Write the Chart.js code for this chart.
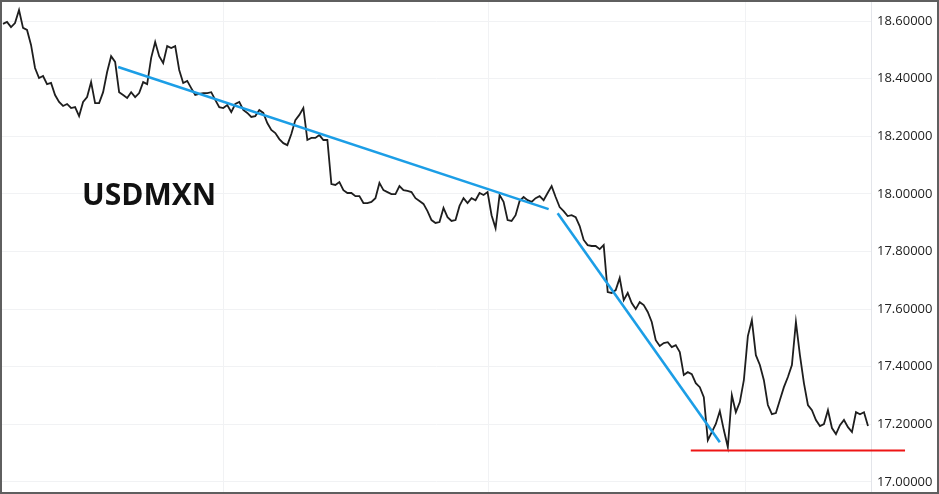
<!DOCTYPE html>
<html>
<head>
<meta charset="utf-8">
<script src="https://cdn.jsdelivr.net/npm/chart.js@4"></script>
<style>
  body { margin: 0; background: #fff; }
  .frame { width: 939px; height: 494px; box-sizing: border-box; border: 2px solid #5f5f5f; }
  .frame canvas { display: block; }
</style>
</head>
<body>
<div class="frame"><canvas id="myChart" width="935" height="490"></canvas></div>
<script>
// USDMXN closes, one value per bar
const closes = [
  18.590, 18.597, 18.579, 18.593, 18.638, 18.576, 18.569, 18.517, 18.437, 18.402,
  18.409, 18.381, 18.385, 18.343, 18.319, 18.305, 18.312, 18.298, 18.301, 18.270,
  18.319, 18.336, 18.388, 18.315, 18.315, 18.353, 18.423, 18.478, 18.458, 18.353,
  18.343, 18.333, 18.353, 18.336, 18.350, 18.388, 18.381, 18.472, 18.527, 18.478,
  18.454, 18.513, 18.506, 18.513, 18.430, 18.385, 18.392, 18.367, 18.343, 18.347,
  18.350, 18.350, 18.353, 18.326, 18.301, 18.298, 18.308, 18.284, 18.312, 18.319,
  18.291, 18.281, 18.267, 18.270, 18.291, 18.281, 18.246, 18.222, 18.211, 18.190,
  18.176, 18.169, 18.208, 18.256, 18.274, 18.298, 18.187, 18.194, 18.194, 18.204,
  18.187, 18.187, 18.034, 18.031, 18.041, 18.013, 18.003, 18.003, 17.992, 17.992,
  17.968, 17.968, 17.972, 17.985, 18.038, 18.013, 18.006, 17.999, 17.999, 18.027,
  18.013, 18.010, 18.006, 17.985, 17.975, 17.965, 17.940, 17.909, 17.899, 17.902,
  17.951, 17.919, 17.906, 17.909, 17.958, 17.985, 17.968, 17.985, 17.978, 18.003,
  17.996, 18.006, 17.926, 17.881, 17.996, 17.972, 17.909, 17.906, 17.926, 17.975,
  17.989, 17.978, 17.972, 17.985, 17.992, 17.978, 18.003, 18.027, 17.989, 17.954,
  17.940, 17.923, 17.926, 17.919, 17.888, 17.840, 17.822, 17.819, 17.819, 17.808,
  17.822, 17.659, 17.656, 17.666, 17.708, 17.631, 17.656, 17.621, 17.600, 17.624,
  17.614, 17.590, 17.555, 17.492, 17.472, 17.482, 17.485, 17.468, 17.475, 17.451,
  17.371, 17.381, 17.374, 17.343, 17.329, 17.294, 17.145, 17.173, 17.201, 17.246,
  17.180, 17.121, 17.301, 17.242, 17.277, 17.353, 17.506, 17.562, 17.440, 17.406,
  17.353, 17.267, 17.235, 17.239, 17.284, 17.329, 17.364, 17.406, 17.555, 17.440,
  17.343, 17.267, 17.249, 17.215, 17.194, 17.201, 17.249, 17.187, 17.166, 17.197,
  17.215, 17.190, 17.173, 17.242, 17.235, 17.242, 17.194
];

// drawn trend lines: [barIndex, price]
const downTrend1 = [[28.75, 18.440], [136.25, 17.947]];
const downTrend2 = [[138.5, 17.933], [179, 17.138]];
const supportLine = [[171.75, 17.109], [225.25, 17.109]];

const yTicks = [17.0, 17.2, 17.4, 17.6, 17.8, 18.0, 18.2, 18.4, 18.6];
const monthBreaks = [55, 121.25, 185.5];
const symbol = "USDMXN";

const toPoints = (pairs) => pairs.map(([x, y]) => ({ x: x, y: y }));

const symbolLabel = {
    id: "symbolLabel",
    afterDraw: (chart) => {
        const { ctx } = chart;
        ctx.save();
        ctx.fillStyle = "#111";
        ctx.font = "bold 30px 'Open Sans'";
        ctx.textBaseline = "alphabetic";
        ctx.fillText(symbol, 80, 203);
        ctx.restore();
    },
};

new Chart(document.querySelector("#myChart"), {
    type: "line",
    data: {
        datasets: [
            {
                data: closes.map((v, i) => ({ x: i, y: v })),
                borderColor: "#1e1e1e",
                borderWidth: 1.8,
                pointRadius: 0,
                tension: 0,
                order: 3,
            },
            {
                data: toPoints(downTrend1),
                borderColor: "#1c9ee6",
                borderWidth: 2.6,
                pointRadius: 0,
                order: 1,
            },
            {
                data: toPoints(downTrend2),
                borderColor: "#1c9ee6",
                borderWidth: 2.6,
                pointRadius: 0,
                order: 1,
            },
            {
                data: toPoints(supportLine),
                borderColor: "#ee1515",
                borderWidth: 2.2,
                pointRadius: 0,
                clip: false,
                order: 1,
            },
        ],
    },
    options: {
        responsive: false,
        animation: false,
        events: [],
        layout: { padding: 0 },
        plugins: {
            legend: false,
            tooltip: { enabled: false },
        },
        scales: {
            x: {
                type: "linear",
                min: -0.25,
                max: 216.75,
                afterBuildTicks: (scale) => {
                    scale.ticks = monthBreaks.map((v) => ({ value: v }));
                },
                afterFit: (scale) => {
                    scale.height = 0;
                },
                ticks: { display: false },
                border: { display: false },
                grid: { color: "#f1f2f4", drawTicks: false },
            },
            y: {
                position: "right",
                min: 16.965,
                max: 18.666,
                afterBuildTicks: (scale) => {
                    scale.ticks = yTicks.map((v) => ({ value: v }));
                },
                afterFit: (scale) => {
                    scale.width = 66;
                    scale.paddingTop = 0;
                    scale.paddingBottom = 0;
                },
                ticks: {
                    padding: 6,
                    color: "#222",
                    font: { family: "Open Sans", size: 13 },
                    callback: (value) => Number(value).toFixed(5),
                },
                border: { display: true, color: "#e3e5ea", width: 1 },
                grid: { color: "#f1f2f4", drawTicks: false },
            },
        },
    },
    plugins: [symbolLabel],
});
</script>
</body>
</html>
